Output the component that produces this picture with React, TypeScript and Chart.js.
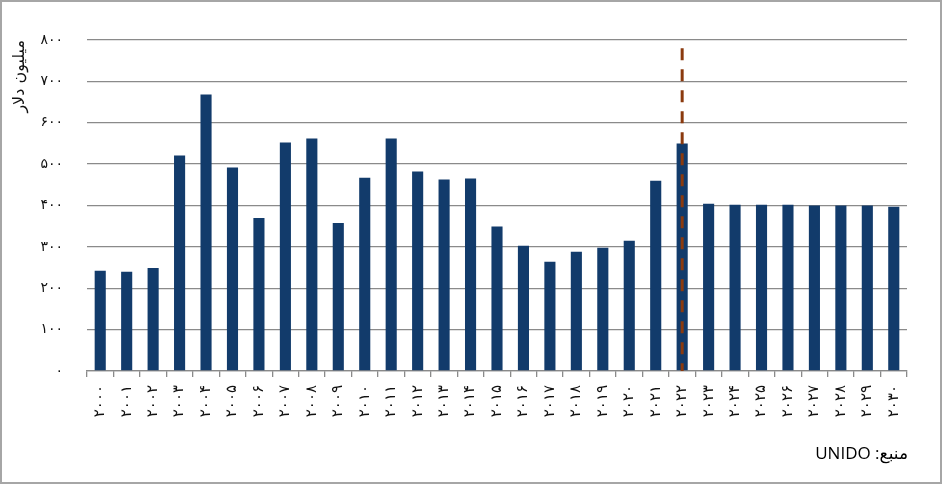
import React, { useEffect, useRef } from "react";
import { Chart, registerables } from "chart.js";

Chart.register(...registerables);

const years: string[] = [
  "۲۰۰۰", "۲۰۰۱", "۲۰۰۲", "۲۰۰۳", "۲۰۰۴", "۲۰۰۵", "۲۰۰۶", "۲۰۰۷", "۲۰۰۸", "۲۰۰۹",
  "۲۰۱۰", "۲۰۱۱", "۲۰۱۲", "۲۰۱۳", "۲۰۱۴", "۲۰۱۵", "۲۰۱۶", "۲۰۱۷", "۲۰۱۸", "۲۰۱۹",
  "۲۰۲۰", "۲۰۲۱", "۲۰۲۲", "۲۰۲۳", "۲۰۲۴", "۲۰۲۵", "۲۰۲۶", "۲۰۲۷", "۲۰۲۸", "۲۰۲۹", "۲۰۳۰",
];

const values: number[] = [
  242, 240, 249, 521, 668, 492, 370, 552, 562, 358,
  467, 562, 482, 463, 465, 349, 303, 264, 288, 298,
  315, 460, 550, 404, 402, 402, 402, 400, 400, 400, 397,
];

const yTickLabels: string[] = ["۰", "۱۰۰", "۲۰۰", "۳۰۰", "۴۰۰", "۵۰۰", "۶۰۰", "۷۰۰", "۸۰۰"];

const yTitle = "میلیون دلار";
const sourceText = "منبع: UNIDO";

const markerYear = "۲۰۲۲";
const markerTop = 780;

const markerPlugin = {
  id: "markerLine",
  afterDatasetsDraw(chart: any) {
    const { ctx, scales } = chart;
    const x = scales.x;
    const y = scales.y;
    const px = x.getPixelForValue(years.indexOf(markerYear));
    ctx.save();
    ctx.strokeStyle = "#8B3A0E";
    ctx.lineWidth = 3;
    ctx.setLineDash([12, 9]);
    ctx.beginPath();
    ctx.moveTo(px, y.getPixelForValue(markerTop));
    ctx.lineTo(px, y.getPixelForValue(0));
    ctx.stroke();
    ctx.restore();
  },
};

export default function App() {
  const ref = useRef<HTMLCanvasElement | null>(null);

  useEffect(() => {
    if (!ref.current) return;
    const gridColor = "#8a8a8a";
    const chart = new Chart(ref.current, {
      type: "bar",
      data: {
        labels: years,
        datasets: [
          {
            data: values,
            backgroundColor: "#123B6B",
            borderWidth: 0,
            categoryPercentage: 1,
            barPercentage: 0.42,
          },
        ],
      },
      options: {
        responsive: false,
        animation: false,
        layout: { padding: { top: 40, right: 35, left: 0, bottom: 0 } },
        plugins: {
          legend: { display: false },
          tooltip: { enabled: false },
        },
        scales: {
          x: {
            grid: {
              offset: true,
              drawOnChartArea: false,
              drawTicks: true,
              tickLength: 6,
              color: gridColor,
              lineWidth: 1.3,
            },
            border: { display: true, color: gridColor, width: 1.3 },
            ticks: {
              autoSkip: false,
              maxRotation: 90,
              minRotation: 90,
              padding: 8,
              color: "#111",
              font: { family: "DejaVu Sans", size: 15 },
            },
            afterFit: (scale: any) => {
              scale.height = 113;
            },
          },
          y: {
            min: 0,
            max: 800,
            grid: {
              drawTicks: false,
              color: gridColor,
              lineWidth: 1.3,
            },
            border: { display: false },
            ticks: {
              stepSize: 100,
              padding: 24,
              color: "#111",
              font: { family: "DejaVu Sans", size: 14 },
              callback: (v: any) => yTickLabels[Math.round(Number(v) / 100)],
            },
            title: {
              display: true,
              text: yTitle,
              align: "end",
              color: "#111",
              padding: 10,
              font: { family: "DejaVu Sans", size: 16 },
            },
            afterFit: (scale: any) => {
              scale.width = 87;
            },
          },
        },
      },
      plugins: [markerPlugin],
    });
    return () => chart.destroy();
  }, []);

  return (
    <div style={{ position: "absolute", left: 0, top: 0, width: 942, height: 484, background: "#fff" }}>
      <canvas ref={ref} width={942} height={484} style={{ width: 942, height: 484, display: "block" }} />
      <div
        style={{
          position: "absolute",
          left: 0,
          top: 0,
          width: 942,
          height: 484,
          boxSizing: "border-box",
          border: "2px solid #a6a6a6",
          pointerEvents: "none",
        }}
      />
      <div
        dir="rtl"
        style={{
          position: "absolute",
          right: 34,
          top: 441,
          fontFamily: "'Open Sans', 'DejaVu Sans', sans-serif",
          fontSize: 17,
          color: "#000",
          whiteSpace: "nowrap",
        }}
      >
        {sourceText}
      </div>
    </div>
  );
}
